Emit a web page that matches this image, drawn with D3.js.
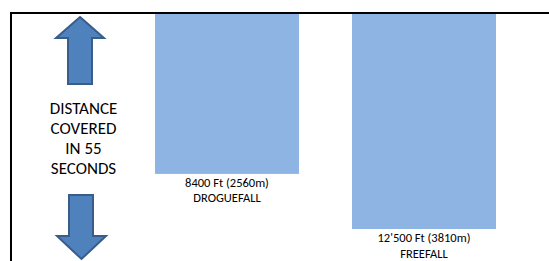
<!DOCTYPE html>
<html>
<head>
<meta charset="utf-8">
<script src="https://cdn.jsdelivr.net/npm/d3@7"></script>
<style>
  body { margin: 0; background: #fff; }
  svg { display: block; font-family: Carlito, Calibri, "Liberation Sans", sans-serif; }
</style>
</head>
<body>
<div id="chart"></div>
<script>
// Chart data
const categories = ['DROGUEFALL', 'FREEFALL'];
const feetValues = [8400, 12500];
const feetLabels = ['8400 Ft', "12'500 Ft"];
const metreValues = [2560, 3810];
const sideLabel = ['DISTANCE', 'COVERED', 'IN 55', 'SECONDS'];

const width = 549;
const height = 261;

const svg = d3.select('#chart')
  .append('svg')
    .attr('width', width)
    .attr('height', height);

// Frame (top and left edges of the slide box)
svg.append('path')
  .attr('d', 'M11,' + height + ' V13 H' + width)
  .attr('fill', 'none')
  .attr('stroke', '#000')
  .attr('stroke-width', 2);

// Bars hang from the top edge; length grows with the distance
const x = d3.scaleBand()
  .domain(categories)
  .range([128.5, 522.5])
  .paddingInner(0.269)
  .paddingOuter(0.1345);

const y = d3.scaleLinear()
  .domain([-3500, 12500])
  .range([14, 229]);

const data = categories.map((c, i) => ({
  name: c, ft: feetValues[i], ftLabel: feetLabels[i], m: metreValues[i]
}));

svg.selectAll('rect.bar')
  .data(data)
  .join('rect')
    .attr('class', 'bar')
    .attr('x', (d) => x(d.name))
    .attr('y', y(y.domain()[0]))
    .attr('width', x.bandwidth())
    .attr('height', (d) => y(d.ft) - y(y.domain()[0]))
    .attr('fill', '#8eb4e3');

// Labels under each bar
const lab = svg.selectAll('g.lab')
  .data(data)
  .join('g')
    .attr('class', 'lab')
    .attr('transform', (d) => 'translate(' + (x(d.name) + x.bandwidth() / 2) + ',' + y(d.ft) + ')')
    .attr('text-anchor', 'middle')
    .attr('font-size', 12.5)
    .attr('fill', '#000');

lab.append('text')
  .attr('y', 13.2)
  .text((d) => d.ftLabel + ' (' + d.m + 'm)');

lab.append('text')
  .attr('y', 28.5)
  .text((d) => d.name);

// Arrows on the left
const arrowFill = '#4f81bd';
const arrowStroke = '#385d8a';

svg.append('path')
  .attr('d', 'M80,17 L104,38 L92,38 L92,84 L68,84 L68,38 L56,38 Z')
  .attr('fill', arrowFill)
  .attr('stroke', arrowStroke)
  .attr('stroke-width', 2)
  .attr('stroke-linejoin', 'miter');

svg.append('path')
  .attr('d', 'M69,195 L93,195 L93,236 L106,236 L81.5,259 L57,236 L69,236 Z')
  .attr('fill', arrowFill)
  .attr('stroke', arrowStroke)
  .attr('stroke-width', 2)
  .attr('stroke-linejoin', 'miter');

// Side caption
svg.append('g')
  .attr('text-anchor', 'middle')
  .attr('font-size', 17)
  .attr('fill', '#000')
  .selectAll('text')
  .data(sideLabel)
  .join('text')
    .attr('x', 83.5)
    .attr('y', (d, i) => 113.5 + i * 20.3)
    .text((d) => d);
</script>
</body>
</html>
